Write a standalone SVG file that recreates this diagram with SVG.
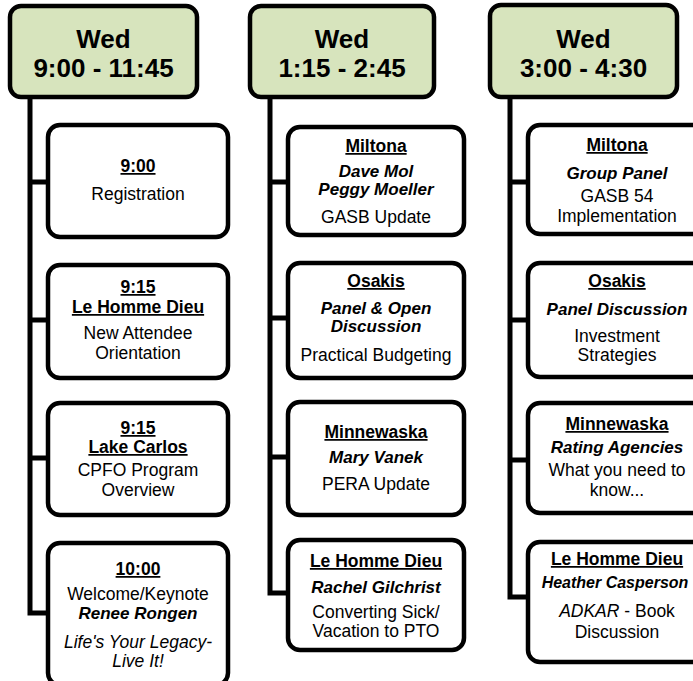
<svg xmlns="http://www.w3.org/2000/svg" width="693" height="681" viewBox="0 0 693 681">
<style>
.hdr{fill:#d7e4bd;stroke:#000;stroke-width:4.5}
.box{fill:#fff;stroke:#000;stroke-width:4.5}
.conn{fill:none;stroke:#000;stroke-width:5;stroke-linejoin:miter}
text{font-family:"Liberation Sans",Arial,sans-serif;text-anchor:middle;fill:#000}
.ht{font-size:26px;font-weight:bold}
.t{font-size:17.5px}
.u{font-size:17.5px;font-weight:bold;text-decoration:underline}
.bi{font-size:17px;font-weight:bold;font-style:italic}
.i{font-size:17.5px;font-style:italic}
</style>
<rect width="693" height="681" fill="#fff"/>
<g id="connectors">
<path class="conn" d="M30 97 V613 H48 M30 182 H48 M30 320 H48 M30 458 H48"/>
<path class="conn" d="M270 97 V593 H288 M270 182 H288 M270 318 H288 M270 457 H288"/>
<path class="conn" d="M510 97 V597 H528 M510 182 H528 M510 320 H528 M510 460 H528"/>
</g>
<g id="h1"><rect class="hdr" x="10" y="6" width="187" height="91" rx="11"/>
<text class="ht" x="103.5" y="48">Wed</text><text class="ht" x="103.5" y="77">9:00 - 11:45</text></g>
<g id="h2"><rect class="hdr" x="250" y="6" width="184" height="91" rx="11"/>
<text class="ht" x="342" y="48">Wed</text><text class="ht" x="342" y="77">1:15 - 2:45</text></g>
<g id="h3"><rect class="hdr" x="490" y="5" width="187" height="92" rx="11"/>
<text class="ht" x="583.5" y="48">Wed</text><text class="ht" x="583.5" y="77">3:00 - 4:30</text></g>

<g id="c1b1"><rect class="box" x="48" y="125" width="180" height="112" rx="12"/>
<text class="u" x="138" y="172">9:00</text><text class="t" x="138" y="200">Registration</text></g>
<g id="c1b2"><rect class="box" x="48" y="265" width="180" height="113" rx="12"/>
<text class="u" x="138" y="293">9:15</text><text class="u" x="138" y="313">Le Homme Dieu</text>
<text class="t" x="138" y="339">New Attendee</text><text class="t" x="138" y="359">Orientation</text></g>
<g id="c1b3"><rect class="box" x="48" y="403" width="180" height="112" rx="12"/>
<text class="u" x="138" y="434">9:15</text><text class="u" x="138" y="453">Lake Carlos</text>
<text class="t" x="138" y="476">CPFO Program</text><text class="t" x="138" y="496">Overview</text></g>
<g id="c1b4"><rect class="box" x="48" y="543" width="180" height="142" rx="12"/>
<text class="u" x="138" y="575">10:00</text><text class="t" x="138" y="600">Welcome/Keynote</text>
<text class="bi" x="138" y="619">Renee Rongen</text>
<text class="i" x="138" y="648">Life's Your Legacy-</text><text class="i" x="138" y="667">Live It!</text></g>

<g id="c2b1"><rect class="box" x="288" y="127" width="176" height="108" rx="12"/>
<text class="u" x="376" y="152">Miltona</text><text class="bi" x="376" y="177">Dave Mol</text>
<text class="bi" x="376" y="195">Peggy Moeller</text><text class="t" x="376" y="223">GASB Update</text></g>
<g id="c2b2"><rect class="box" x="288" y="263" width="176" height="115" rx="12"/>
<text class="u" x="376" y="287">Osakis</text><text class="bi" x="376" y="314">Panel &amp; Open</text>
<text class="bi" x="376" y="332">Discussion</text><text class="t" x="376" y="361">Practical Budgeting</text></g>
<g id="c2b3"><rect class="box" x="288" y="402" width="176" height="113" rx="12"/>
<text class="u" x="376" y="438">Minnewaska</text><text class="bi" x="376" y="463">Mary Vanek</text>
<text class="t" x="376" y="490">PERA Update</text></g>
<g id="c2b4"><rect class="box" x="288" y="540" width="176" height="110" rx="12"/>
<text class="u" x="376" y="567">Le Homme Dieu</text><text class="bi" x="376" y="593">Rachel Gilchrist</text>
<text class="t" x="376" y="618">Converting Sick/</text><text class="t" x="376" y="637">Vacation to PTO</text></g>

<g id="c3b1"><rect class="box" x="528" y="125" width="180" height="109" rx="12"/>
<text class="u" x="617" y="151">Miltona</text><text class="bi" x="617" y="179">Group Panel</text>
<text class="t" x="617" y="202">GASB 54</text><text class="t" x="617" y="222">Implementation</text></g>
<g id="c3b2"><rect class="box" x="528" y="263" width="180" height="114" rx="12"/>
<text class="u" x="617" y="287">Osakis</text><text class="bi" x="617" y="315">Panel Discussion</text>
<text class="t" x="617" y="342">Investment</text><text class="t" x="617" y="361">Strategies</text></g>
<g id="c3b3"><rect class="box" x="528" y="403" width="180" height="110" rx="12"/>
<text class="u" x="617" y="430">Minnewaska</text><text class="bi" x="617" y="453">Rating Agencies</text>
<text class="t" x="617" y="476">What you need to</text><text class="t" x="617" y="496">know...</text></g>
<g id="c3b4"><rect class="box" x="528" y="542" width="180" height="120" rx="12"/>
<text class="u" x="617" y="565">Le Homme Dieu</text><text class="bi" x="615" y="588" style="font-size:16px">Heather Casperson</text>
<text class="t" x="617" y="617"><tspan font-style="italic">ADKAR</tspan> - Book</text><text class="t" x="617" y="638">Discussion</text></g>
</svg>
